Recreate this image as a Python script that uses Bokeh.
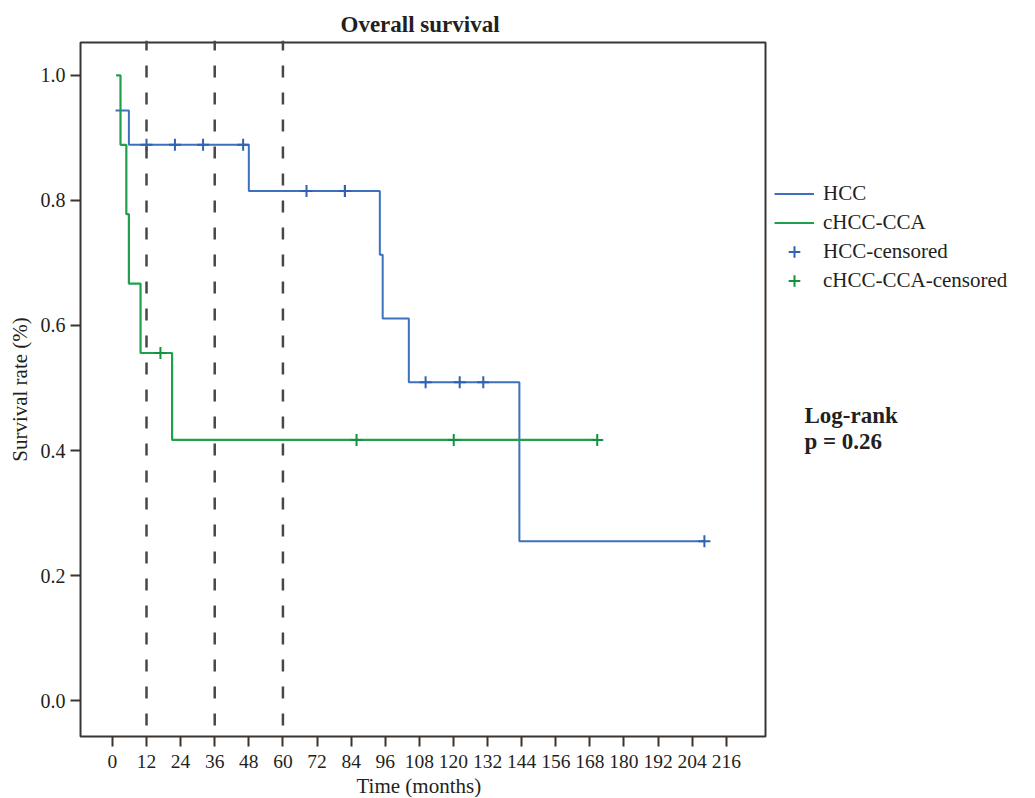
from bokeh.plotting import figure
from bokeh.models import (Range1d, FixedTicker, Span, Legend, LegendItem, Label,
                          BoxAnnotation, Title)
from bokeh.embed import file_html
from bokeh.resources import INLINE

# ---- data ----
hcc_time = [1.1, 5.8, 48.0, 94.1, 95.1, 104.3, 143.2, 208.3]
hcc_surv = [0.944, 0.889, 0.815, 0.713, 0.611, 0.509, 0.255, 0.255]
hcc_cens_time = [12.0, 22.0, 31.9, 46.0, 68.3, 81.8, 81.8, 110.2, 122.2, 130.5, 208.3]
hcc_cens_surv = [0.889, 0.889, 0.889, 0.889, 0.815, 0.815, 0.815, 0.509, 0.509, 0.509, 0.255]

cca_time = [1.3, 2.85, 4.9, 5.8, 9.9, 21.0, 170.6]
cca_surv = [1.0, 0.889, 0.778, 0.667, 0.556, 0.417, 0.417]
cca_cens_time = [16.9, 85.9, 120.1, 170.6]
cca_cens_surv = [0.556, 0.417, 0.417, 0.417]

x_ticks = [0, 12, 24, 36, 48, 60, 72, 84, 96, 108, 120, 132, 144, 156, 168, 180, 192, 204, 216]
y_ticks = [0.0, 0.2, 0.4, 0.6, 0.8, 1.0]
y_tick_labels = ["0.0", "0.2", "0.4", "0.6", "0.8", "1.0"]
landmarks = [12, 36, 60]

series_names = ["HCC", "cHCC-CCA", "HCC-censored", "cHCC-CCA-censored"]
logrank_text = ["Log-rank", "p = 0.26"]

# plot box (axes region) and the wider canvas frame that also holds legend/annotation
BOX_X = (-11.22, 229.8)
BOX_Y = (-0.0575, 1.0527)
FRAME_X = (-11.93, 324.8)
FRAME_Y = (-0.0607, 1.0559)

BLUE = "#3D70BE"
GREEN = "#1FA04A"
FRAME = "#3A3531"
TXT = "#231F20"
FONT = "Liberation Serif"

p = figure(width=1035, height=798, output_backend="svg", toolbar_location=None,
           x_range=Range1d(*FRAME_X), y_range=Range1d(*FRAME_Y),
           min_border_left=78, min_border_right=0, min_border_top=40, min_border_bottom=59)

p.title.visible = False
p.add_layout(Title(text="Overall survival", align="left", offset=262, standoff=8,
                   text_font=FONT, text_font_size="23px", text_font_style="bold",
                   text_color=TXT), "above")

p.xgrid.visible = False
p.ygrid.visible = False
p.outline_line_color = None
p.background_fill_color = "white"
p.border_fill_color = "white"

for ax in (p.xaxis[0], p.yaxis[0]):
    ax.axis_line_color = None
    ax.major_tick_line_color = FRAME
    ax.major_tick_line_width = 2
    ax.minor_tick_line_color = None
    ax.major_tick_in = 2
    ax.major_label_text_font = FONT
    ax.major_label_text_color = TXT
    ax.axis_label_text_font = FONT
    ax.axis_label_text_font_size = "21px"
    ax.axis_label_text_font_style = "normal"
    ax.axis_label_text_color = TXT

p.xaxis.ticker = FixedTicker(ticks=x_ticks)
p.xaxis.major_tick_out = 8
p.xaxis.major_label_standoff = 8
p.xaxis.major_label_text_font_size = "19.5px"

p.yaxis.ticker = FixedTicker(ticks=y_ticks)
p.yaxis.major_label_overrides = {t: l for t, l in zip(y_ticks, y_tick_labels)}
p.yaxis.major_tick_out = 8
p.yaxis.major_label_standoff = 5
p.yaxis.major_label_text_font_size = "20px"
p.yaxis.axis_label = "Survival rate (%)"
p.yaxis.axis_label_standoff = 6

p.add_layout(Title(text="Time (months)", align="left", offset=278, standoff=2,
                   text_font=FONT, text_font_size="21px", text_font_style="normal",
                   text_color=TXT), "below")

# the axes box
p.add_layout(BoxAnnotation(left=BOX_X[0], right=BOX_X[1], bottom=BOX_Y[0], top=BOX_Y[1],
                           fill_alpha=0, line_color=FRAME, line_alpha=1.0, line_width=2))

for lm in landmarks:
    p.add_layout(Span(location=lm, dimension="height", line_color="#4A4644",
                      line_width=2.5, line_dash="12 15", line_dash_offset=2))

hcc_line = p.step(hcc_time, hcc_surv, mode="after", line_color=BLUE, line_width=2)
cca_line = p.step(cca_time, cca_surv, mode="after", line_color=GREEN, line_width=2.2)
hcc_c = p.scatter(hcc_cens_time, hcc_cens_surv, marker="cross", size=12,
                  line_color="#2F62B0", line_width=2)
cca_c = p.scatter(cca_cens_time, cca_cens_surv, marker="cross", size=12,
                  line_color="#159040", line_width=2)

legend = Legend(items=[LegendItem(label=series_names[0], renderers=[hcc_line]),
                       LegendItem(label=series_names[1], renderers=[cca_line]),
                       LegendItem(label=series_names[2], renderers=[hcc_c]),
                       LegendItem(label=series_names[3], renderers=[cca_c])],
                location=(696, 443), orientation="vertical")
legend.border_line_color = None
legend.background_fill_alpha = 0
legend.padding = 0
legend.margin = 0
legend.spacing = 0
legend.glyph_width = 40
legend.glyph_height = 29
legend.label_height = 22
legend.label_standoff = 9
legend.label_text_font = FONT
legend.label_text_font_size = "21px"
legend.label_text_color = TXT
legend.label_text_baseline = "middle"
p.add_layout(legend)

p.add_layout(Label(x=243.5, y=0.4564, text=logrank_text[0], text_font=FONT,
                   text_font_size="23px", text_font_style="bold", text_baseline="alphabetic",
                   text_color=TXT))
p.add_layout(Label(x=243.5, y=0.4148, text=logrank_text[1], text_font=FONT,
                   text_font_size="23px", text_font_style="bold", text_baseline="alphabetic",
                   text_color=TXT))

open("out.html", "w").write(file_html(p, INLINE))
